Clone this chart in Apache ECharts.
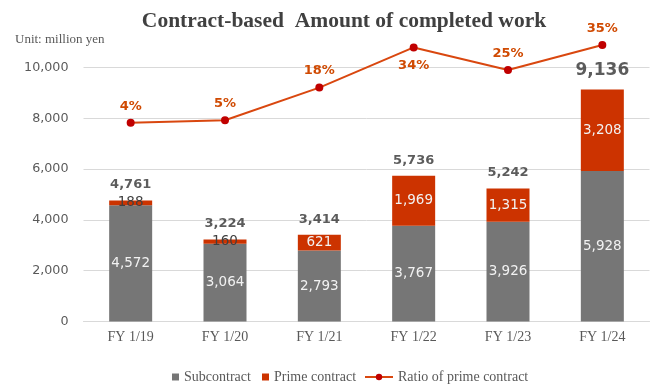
<!DOCTYPE html>
<html>
<head>
<meta charset="utf-8">
<script src="https://cdn.jsdelivr.net/npm/echarts@6/dist/echarts.min.js"></script>
<style>
html,body{margin:0;padding:0;background:#fff;}
#chart{width:671px;height:387px;}
</style>
</head>
<body>
<div id="chart"></div>
<script>
const categories = ['FY 1/19', 'FY 1/20', 'FY 1/21', 'FY 1/22', 'FY 1/23', 'FY 1/24'];
const subcontract = [4572, 3064, 2793, 3767, 3926, 5928];
const primeContract = [188, 160, 621, 1969, 1315, 3208];
const totals = [4761, 3224, 3414, 5736, 5242, 9136];
const primeRatio = [4, 5, 18, 34, 25, 35];
const yTicks = [0, 2000, 4000, 6000, 8000, 10000];

const SERIF = '"Liberation Serif", "Times New Roman", serif';
const SANS = '"DejaVu Sans", Verdana, sans-serif';
const GREY = '#767676';
const RED = '#CC3300';
const LINE = '#D9470F';
const DOT = '#C00000';

const chart = echarts.init(document.getElementById('chart'), null, {renderer: 'canvas'});

const fmt = v => v.toLocaleString('en-US');

chart.setOption({
  animation: false,
  backgroundColor: '#ffffff',
  title: [
    {
      text: 'Contract-based  Amount of completed work',
      left: 339, textAlign: 'center', top: 5,
      textStyle: {fontFamily: SERIF, fontWeight: 'bold', fontSize: 21.5, color: '#404040'}
    },
    {
      text: 'Unit: million yen',
      left: 10, top: 28,
      textStyle: {fontFamily: SERIF, fontWeight: 'normal', fontSize: 13, color: '#595959'}
    }
  ],
  legend: [
    {
      data: [{name: 'Subcontract', icon: 'rect'}], left: 167, top: 365, itemWidth: 7, itemHeight: 7, itemGap: 0,
      textStyle: {fontFamily: SERIF, fontSize: 14, color: '#595959', padding: [0,0,0,0]}
    },
    {
      data: [{name: 'Prime contract', icon: 'rect'}], left: 257, top: 365, itemWidth: 7, itemHeight: 7, itemGap: 0,
      textStyle: {fontFamily: SERIF, fontSize: 14, color: '#595959', padding: [0,0,0,0]}
    },
    {
      data: ['Ratio of prime contract'], left: 359, top: 365, itemWidth: 28, itemHeight: 8, itemGap: 0,
      textStyle: {fontFamily: SERIF, fontSize: 14, color: '#595959', padding: [0,0,0,0]}
    }
  ],
  grid: {left: 83.5, right: 21.5, top: 67.5, bottom: 65.5, containLabel: false},
  xAxis: {
    type: 'category',
    data: categories,
    axisLine: {lineStyle: {color: '#d9d9d9', width: 1}},
    axisTick: {show: false},
    axisLabel: {fontFamily: SERIF, fontSize: 14, color: '#595959', margin: 9}
  },
  yAxis: [
    {
      type: 'value', min: yTicks[0], max: yTicks[yTicks.length - 1], interval: 2000,
      axisLine: {show: false}, axisTick: {show: false},
      splitLine: {lineStyle: {color: '#d9d9d9', width: 1}},
      axisLabel: {fontFamily: SANS, fontSize: 12.7, color: '#595959', margin: 15, formatter: v => fmt(v)}
    },
    {
      type: 'value', min: -75.2, max: 26, show: false, splitLine: {show: false}
    }
  ],
  series: [
    {
      name: 'Subcontract', type: 'bar', stack: 'amt', barWidth: 43,
      data: subcontract,
      itemStyle: {color: GREY},
      label: {show: true, position: 'inside', fontFamily: SANS, fontSize: 13.5, color: '#f2f2f2',
        formatter: p => fmt(p.value)}
    },
    {
      name: 'Prime contract', type: 'bar', stack: 'amt', barWidth: 43,
      data: primeContract.map(v => ({
        value: v,
        label: v < 400 ? {color: '#404040'} : {color: '#f2f2f2'}
      })),
      itemStyle: {color: RED},
      label: {show: true, position: 'inside', fontFamily: SANS, fontSize: 13.5,
        formatter: p => fmt(p.value)}
    },
    {
      name: 'Total', type: 'scatter', data: totals.map((v, i) => ({
        value: v,
        label: i === totals.length - 1 ? {fontSize: 17, distance: 10} : {}
      })),
      symbol: 'circle', symbolSize: 0.1, itemStyle: {color: 'rgba(0,0,0,0)'},
      silent: true, z: 5,
      label: {show: true, position: 'top', distance: 9, fontFamily: SANS, fontWeight: 'bold',
        fontSize: 13, color: '#333333', formatter: p => fmt(p.value)}
    },
    {
      name: 'Ratio of prime contract', type: 'line', yAxisIndex: 1,
      clip: false, z: 6,
      symbol: 'circle', symbolSize: 8,
      lineStyle: {color: LINE, width: 2},
      itemStyle: {color: DOT, borderWidth: 0},
      label: {show: true, position: 'top', distance: 6, fontFamily: SANS, fontWeight: 'bold',
        fontSize: 13, color: '#D04A02', formatter: p => p.value + '%'},
      data: primeRatio.map((v, i) => ({
        value: v,
        label: i === 3 ? {position: 'bottom', distance: 8} : {}
      }))
    }
  ]
});
</script>
</body>
</html>
